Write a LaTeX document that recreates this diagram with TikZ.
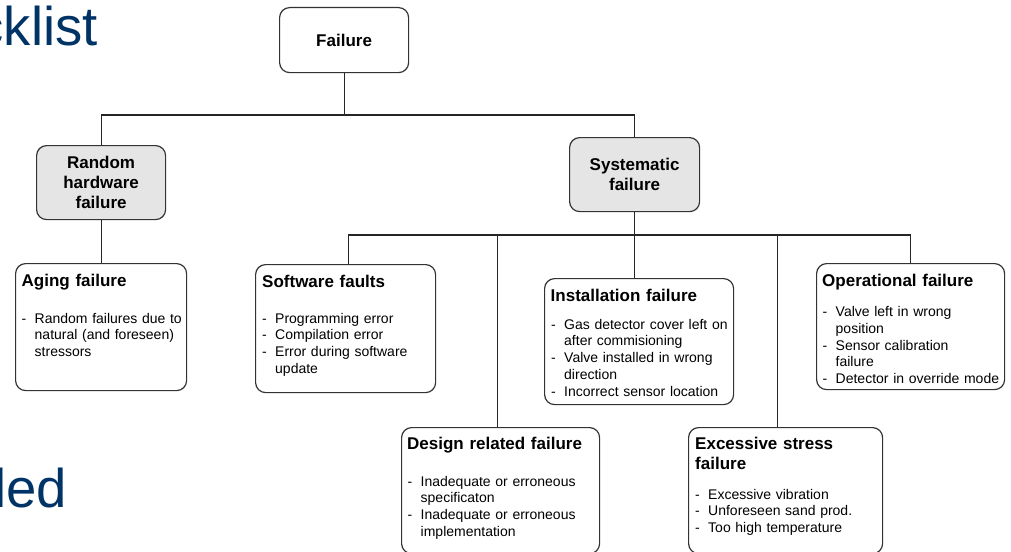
\documentclass[tikz,border=0pt]{standalone}
\usepackage{fontspec}
\setmainfont{Liberation Sans}
\definecolor{titleblue}{RGB}{0,51,102}
\definecolor{boxgray}{RGB}{229,229,229}
\newcommand{\headfont}{\bfseries\fontsize{17}{20}\selectfont}
\newcommand{\bodyfont}{\fontsize{14}{16.8}\selectfont}
\newcommand{\itm}[1]{\hangindent=13pt\hangafter=1\makebox[13pt][l]{-}#1\par}
\begin{document}
\begin{tikzpicture}[x=1pt,y=-1pt,
    every node/.style={inner sep=0pt},
    box/.style={draw=black!80,line width=1.2pt,rounded corners=10pt,anchor=north west},
    grey box/.style={box,fill=boxgray,font=\headfont,align=center},
    boxhead/.style={anchor=base west,font=\headfont,text width=180pt,align=left},
    boxlist/.style={anchor=base west,font=\bodyfont,text width=185pt,align=left},
    link/.style={draw=black!85,line width=1.2pt}]
    \useasboundingbox (0,0) rectangle (1011,551);
    \node [anchor=base east,text=titleblue,font=\fontsize{54.5}{60}\selectfont] (title top) at (98,46) {cklist};
    \node [anchor=base east,text=titleblue,font=\fontsize{54.5}{60}\selectfont] (title low) at (67,507) {led};
    % upper levels
    \node [box,minimum width=129pt,minimum height=65pt,font=\headfont] (failure) at (279,7) {Failure};
    \node [grey box,minimum width=129pt,minimum height=74pt] (random) at (36,145) {Random\\hardware\\failure};
    \node [grey box,minimum width=130pt,minimum height=74pt] (systematic) at (569,137) {Systematic\\failure};
    % lower boxes
    \node [box,minimum width=171pt,minimum height=127pt] (aging) at (15,263) {};
    \node [box,minimum width=180pt,minimum height=128pt] (software) at (255,264) {};
    \node [box,minimum width=189pt,minimum height=126pt] (install) at (544,278) {};
    \node [box,minimum width=188pt,minimum height=126pt] (operation) at (816,263) {};
    \node [box,minimum width=198pt,minimum height=126pt] (design) at (401,427) {};
    \node [box,minimum width=194pt,minimum height=126pt] (stress) at (688,427) {};
    \node [boxhead] (aging head) at ([shift={(6.5,23)}]aging.north west) {Aging failure};
    \node [boxlist] (aging list) at ([shift={(6.5,60)}]aging.north west)
      {\itm{Random failures due to\newline natural (and foreseen)\newline stressors}};
    \node [boxhead] (software head) at ([shift={(7,23)}]software.north west) {Software faults};
    \node [boxlist] (software list) at ([shift={(7,59)}]software.north west)
      {\itm{Programming error}\itm{Compilation error}\itm{Error during software\newline update}};
    \node [boxhead] (install head) at ([shift={(6.5,23)}]install.north west) {Installation failure};
    \node [boxlist] (install list) at ([shift={(7,51)}]install.north west)
      {\itm{Gas detector cover left on\newline after commisioning}\itm{Valve installed in wrong\newline direction}\itm{Incorrect sensor location}};
    \node [boxhead] (operation head) at ([shift={(6,23)}]operation.north west) {Operational failure};
    \node [boxlist] (operation list) at ([shift={(6.5,53.5)}]operation.north west)
      {\itm{Valve left in wrong\newline position}\itm{Sensor calibration\newline failure}\itm{Detector in override mode}};
    \node [boxhead] (design head) at ([shift={(6,22)}]design.north west) {Design related failure};
    \node [boxlist] (design list) at ([shift={(6.5,59)}]design.north west)
      {\itm{Inadequate or erroneous\newline specificaton}\itm{Inadequate or erroneous\newline implementation}};
    \node [boxhead] (stress head) at ([shift={(7,22)}]stress.north west) {Excessive stress\\failure};
    \node [boxlist] (stress list) at ([shift={(7,72)}]stress.north west)
      {\itm{Excessive vibration}\itm{Unforeseen sand prod.}\itm{Too high temperature}};
    % connectors
    \coordinate (bus1) at (0,115);
    \coordinate (bus2) at (0,235);
    \draw [link] (failure) -- (failure |- bus1);
    \draw [link] (random) |- (systematic |- bus1) -- (systematic);
    \draw [link] (random) -- (aging);
    \draw [link] (systematic) -- (systematic |- install.north);
    \draw [link] ([xshift=3pt]software.north) |- (operation |- bus2) -- (operation);
    \draw [link] ([xshift=-3pt]design.north) -- ([xshift=-3pt]design.north |- bus2);
    \draw [link] ([xshift=-8pt]stress.north) -- ([xshift=-8pt]stress.north |- bus2);
\end{tikzpicture}
\end{document}
